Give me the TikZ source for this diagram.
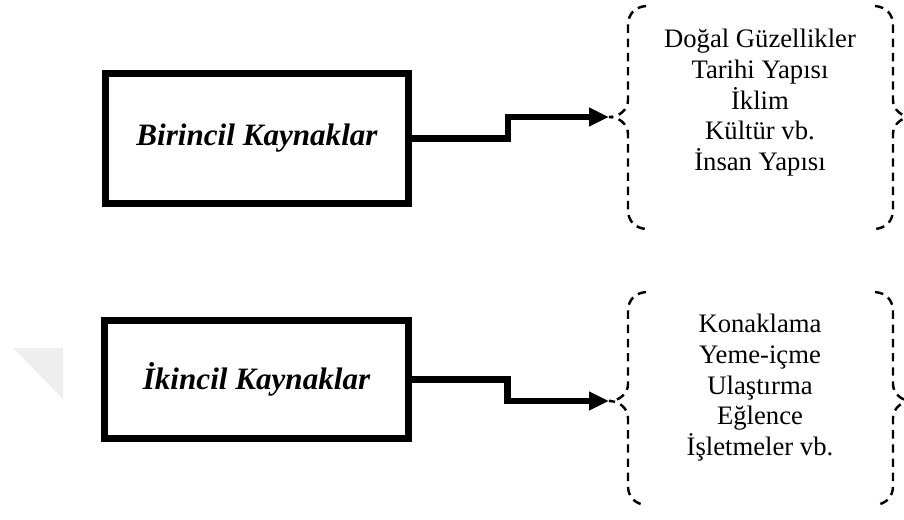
\documentclass[tikz,border=0pt]{standalone}
\usepackage{fontspec}
\setmainfont{Liberation Serif}
\usepackage{tikz}
\usetikzlibrary{arrows.meta}

\tikzset{
    srcbox/.style={draw, line width=3pt, minimum width=136.5pt, inner sep=0pt, font=\fontsize{14}{16}\selectfont\bfseries\itshape},
    listtext/.style={align=center, anchor=north, inner sep=0pt, font=\fontsize{12}{13.8}\selectfont},
    steparrow/.style={-{Triangle[length=9pt, width=8pt]}, line width=3pt},
    bracket/.style={line width=1.1pt, dash pattern=on 3.8pt off 2.6pt},
}

\begin{document}
\begin{tikzpicture}[x=0.45pt, y=-0.45pt]
        \useasboundingbox (0,0) rectangle (904,519);

        % faint mark at the left margin
        \fill[gray!13] (13,348) -- (63,348) -- (63,399) -- cycle;

        \node (b1) at (257,138.5)[srcbox, minimum height=58.7pt] {Birincil Kaynaklar};
        \node (b2) at (256.5,379.5)[srcbox, minimum height=53.3pt] {İkincil Kaynaklar};

        \coordinate (c1) at (609,117);
        \coordinate (c2) at (609,401);

        % curly brackets round the two lists
        \foreach \t/\m/\b in {6/117/229, 292/401/505} {
            \draw[bracket] (646,\t) .. controls (635,\t+1) and (628,\t+8) .. (628,\t+19)
                -- (628,\m-17) .. controls (628,\m-8) and (620,\m) .. (609,\m)
                .. controls (620,\m) and (628,\m+8) .. (628,\m+17)
                -- (628,\b-19) .. controls (628,\b-8) and (635,\b-1) .. (646,\b);
            \draw[bracket] (875,\t) .. controls (886,\t+1) and (893,\t+8) .. (893,\t+19)
                -- (893,\m-17) .. controls (893,\m-8) and (901,\m) .. (912,\m)
                .. controls (901,\m) and (893,\m+8) .. (893,\m+17)
                -- (893,\b-19) .. controls (893,\b-8) and (886,\b-1) .. (875,\b);
        }

        \node (l1) at (760,29)[listtext] {Doğal Güzellikler\\Tarihi Yapısı\\İklim\\Kültür vb.\\İnsan Yapısı};
        \node (l2) at (760,314)[listtext] {Konaklama\\Yeme-içme\\Ulaştırma\\Eğlence\\İşletmeler vb.};

        \draw[steparrow] (b1.east) -- ++(96,0) |- (c1);
        \draw[steparrow] (b2.east) -- ++(96,0) |- (c2);

    \end{tikzpicture}
\end{document}
